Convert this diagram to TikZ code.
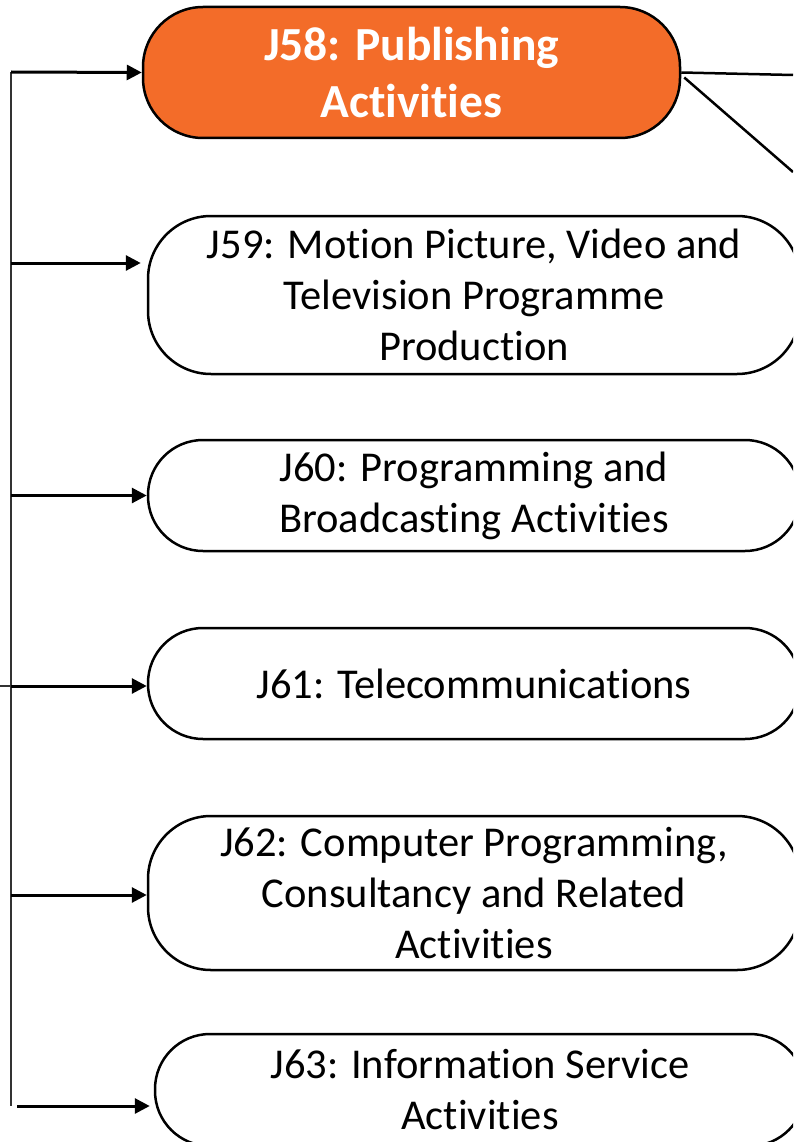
\documentclass[tikz,border=0pt]{standalone}
\usepackage{fontspec}
\setmainfont{Carlito}[Ligatures=NoCommon,RawFeature={-liga;-clig;-calt;-dlig}]
\usetikzlibrary{arrows.meta}
\definecolor{jorange}{RGB}{243,108,41}

\begin{document}
\begin{tikzpicture}[x=1pt,y=-1pt,
    box/.style={draw,line width=2.5pt,rounded corners=55pt,align=center,inner sep=0pt,
                font=\fontsize{42.5}{51}\selectfont},
    stream/.style={-{Triangle[length=15pt,width=15pt]},line width=3pt},
    trunk/.style={line width=1.5pt,black!80}]
    \useasboundingbox (0,0) rectangle (793,1142);
    \clip (0,0) rectangle (793,1142);
    %publishing
    \node[box,fill=jorange,text=white,minimum width=537pt,minimum height=131pt,
          rounded corners=60pt,font=\fontsize{47.5}{57}\selectfont\bfseries]
          (J58) at (411.5,72.5) {J58: Publishing\\Activities};
    %other divisions
    \node[box,minimum width=652pt,minimum height=158pt,rounded corners=63pt]
          (J59) at (474,295) {J59: Motion Picture, Video and\\Television Programme\\Production};
    \node[box,minimum width=652pt,minimum height=111pt] (J60) at (474,495.5)
          {J60: Programming and\\Broadcasting Activities};
    \node[box,minimum width=652pt,minimum height=111pt] (J61) at (474,683.5)
          {J61: Telecommunications};
    \node[box,minimum width=652pt,minimum height=154pt,rounded corners=63pt]
          (J62) at (474,893) {J62: Computer Programming,\\Consultancy and Related\\Activities};
    \node[box,minimum width=650pt,minimum height=112pt] (J63) at (480,1090)
          {J63: Information Service\\Activities};
    %trunk
    \coordinate (top) at (11,72);
    \coordinate (bottom) at (11,1106);
    \coordinate (feed) at (0,686);
    \draw[trunk] (top) -- (bottom);
    \draw[trunk] (feed) -- (feed -| top);
    %inputs
    \draw[stream] (top) -- (J58.west);
    \draw[stream] (top |- 0,263) -- ([xshift=-6pt,yshift=32pt]J59.west);
    \draw[stream] (top |- J60.west) -- (J60.west);
    \draw[stream] (top |- 0,686) -- ([yshift=-2.5pt]J61.west);
    \draw[stream] (top |- 0,895) -- ([yshift=-2pt]J62.west);
    \draw[stream] ([xshift=6pt]bottom) -- ([xshift=-4pt,yshift=-16pt]J63.west);
    %outputs
    \coordinate (out1) at (793,75);
    \coordinate (out2) at (793,172);
    \draw[line width=2.5pt] (J58.east) -- (out1);
    \draw[line width=2.5pt] ([shift={(3pt,-5pt)}]J58.east) -- (out2);
\end{tikzpicture}
\end{document}
